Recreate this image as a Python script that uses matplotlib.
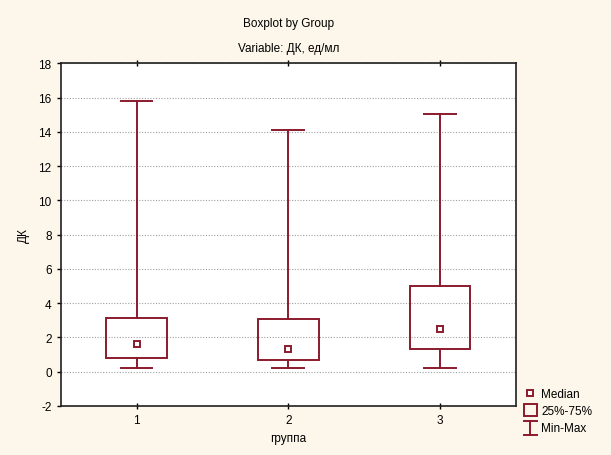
import numpy as np
import matplotlib
matplotlib.use("Agg")
import matplotlib.pyplot as plt
from matplotlib.patches import Rectangle
from matplotlib.lines import Line2D
from matplotlib.legend_handler import HandlerBase

# data
groups = [1, 2, 3]
mins = [0.2, 0.2, 0.2]
q1 = [0.8, 0.7, 1.3]
medians = [1.6, 1.3, 2.5]
q3 = [3.1, 3.05, 5.0]
maxs = [15.8, 14.1, 15.05]
yticks = [-2, 0, 2, 4, 6, 8, 10, 12, 14, 16, 18]

red = "#8a1a2c"
bg = "#fdf6ea"

plt.rcParams['font.family'] = ['Liberation Sans', 'DejaVu Sans']
plt.rcParams['font.size'] = 8.5
plt.rcParams['axes.unicode_minus'] = False

fig = plt.figure(figsize=(6.11, 4.56), dpi=100, facecolor=bg)
ax = fig.add_axes([0.0993, 0.108, 0.7452, 0.7506])
ax.set_facecolor("white")

box_w = 0.4
cap_w = 0.21
for x, lo, a, m, b, hi in zip(groups, mins, q1, medians, q3, maxs):
    ax.add_patch(Rectangle((x - box_w / 2, a), box_w, b - a, fill=False,
                           edgecolor=red, lw=1.4, zorder=3))
    ax.plot([x, x], [b, hi], color=red, lw=1.4, zorder=3)
    ax.plot([x, x], [lo, a], color=red, lw=1.4, zorder=3)
    ax.plot([x - cap_w / 2, x + cap_w / 2], [hi, hi], color=red, lw=1.4, zorder=3)
    ax.plot([x - cap_w / 2, x + cap_w / 2], [lo, lo], color=red, lw=1.4, zorder=3)
    ax.plot([x], [m], marker='s', ms=4.5, mfc='white', mec=red, mew=1.4, zorder=4)

ax.set_xlim(0.5, 3.5)
ax.set_ylim(-2, 18)
ax.set_xticks(groups)
ax.set_yticks(yticks)
ax.yaxis.grid(True, linestyle=(0, (1, 1.5)), color="#a0a0a0", lw=0.8)
ax.set_axisbelow(True)
for s in ax.spines.values():
    s.set_linewidth(1.2)
    s.set_color("#202020")
ax.tick_params(axis='x', direction='inout', length=5, top=True, width=1)
ax.tick_params(axis='y', direction='out', length=3, width=1)
ax.set_xlabel("группа", labelpad=4)
ax.set_ylabel("ДК", labelpad=6)

fig.text(0.473, 0.947, "Boxplot by Group", ha='center', va='center')
fig.text(0.473, 0.893, "Variable: ДК, ед/мл", ha='center', va='center')


class MinMaxHandler(HandlerBase):
    def create_artists(self, legend, orig, xd, yd, w, h, fontsize, trans):
        cx = xd + w / 2
        top = yd + h + 1.5
        bot = yd - 2.5
        l1 = Line2D([cx, cx], [bot, top], color=red, lw=1.4, transform=trans)
        l2 = Line2D([cx - 4.5, cx + 4.5], [top, top], color=red, lw=1.4, transform=trans)
        l3 = Line2D([cx - 4.5, cx + 4.5], [bot, bot], color=red, lw=1.4, transform=trans)
        return [l1, l2, l3]


class BoxHandler(HandlerBase):
    def create_artists(self, legend, orig, xd, yd, w, h, fontsize, trans):
        cx = xd + w / 2
        r = Rectangle((cx - 5, yd - 1), 10, h + 2, fill=False, edgecolor=red,
                      lw=1.4, transform=trans)
        return [r]


h_med = Line2D([], [], marker='s', ms=4.5, mfc='white', mec=red, mew=1.4, ls='none')
h_box = Rectangle((0, 0), 1, 1)
h_mm = Line2D([], [])
fig.legend([h_med, h_box, h_mm], ["Median", "25%-75%", "Min-Max"],
           handler_map={h_box: BoxHandler(), h_mm: MinMaxHandler()},
           loc='lower left', bbox_to_anchor=(0.845, 0.027), frameon=False,
           handlelength=1.0, handletextpad=0.4, labelspacing=0.45, borderpad=0.2)

fig.savefig("out.png", dpi=100, facecolor=bg)
